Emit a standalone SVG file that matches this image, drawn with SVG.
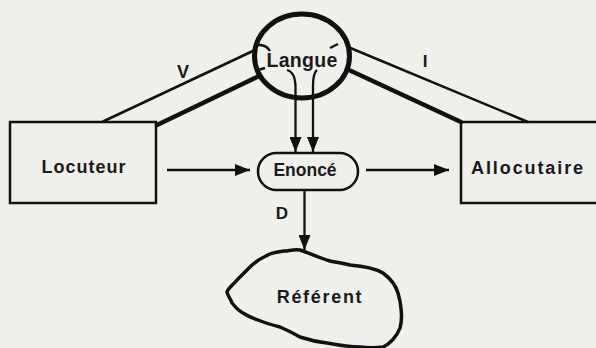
<svg xmlns="http://www.w3.org/2000/svg" width="596" height="348" viewBox="0 0 596 348">
<style>
.bg{fill:#efefec}
.box{fill:none;stroke:#111;stroke-width:2.5}
.ln{fill:none;stroke:#111;stroke-width:2.5}
.thick{fill:none;stroke:#111;stroke-width:4.5;stroke-linecap:round}
.arr{fill:none;stroke:#111;stroke-width:2.3}
.t{font-family:"Liberation Sans",Arial,sans-serif;font-weight:bold;fill:#1a1a1a;text-anchor:middle;dominant-baseline:central}
</style>
<defs>
<marker id="ah" viewBox="0 0 15 12" refX="15" refY="6" markerWidth="15" markerHeight="12" markerUnits="userSpaceOnUse" orient="auto">
<path d="M0,0 L15,6 L0,12 Z" fill="#111"/>
</marker>
</defs>
<rect class="bg" x="0" y="0" width="596" height="348"/>
<g id="langue">
<ellipse cx="302" cy="56" rx="47.5" ry="42" fill="none" stroke="#111" stroke-width="5"/>
<path class="ln" d="M256,45 Q266,44 270,51"/>
<path class="ln" d="M258,70 L265,68"/>
<path class="ln" d="M330,48 L338,44"/>
<text class="t" x="302" y="60" font-size="19.5" letter-spacing="0.3">Langue</text>
</g>
<g id="locuteur">
<rect class="box" x="10" y="122" width="146" height="81"/>
<text class="t" x="84" y="167" font-size="18" letter-spacing="1">Locuteur</text>
</g>
<g id="allocutaire">
<rect class="box" x="461" y="122" width="160" height="81"/>
<text class="t" x="528" y="168" font-size="18" letter-spacing="1.9">Allocutaire</text>
</g>
<g id="enonce">
<rect class="box" x="258" y="153" width="100" height="37" rx="18.5"/>
<text class="t" x="305" y="170" font-size="17.5">Enoncé</text>
</g>
<g id="referent">
<path fill="none" stroke="#111" stroke-width="3.5" stroke-linejoin="round" d="M300,250 C293,249 289,251 284,251 C276,252 270,253 266,256 C259,259 254,263 250,267 C245,272 241,276 237,280 C233,285 228,288 227,292 C228,297 231,299 232,303 C236,308 239,311 243,313 C249,317 253,318 258,320 C265,323 272,325 280,327 C287,330 293,333 300,337 C309,340 318,342 327,343 C338,345 349,347 360,347 C368,348 376,348 383,347 C390,344 397,336 400,328 C403,318 401,303 398,293 C396,286 391,279 383,273 C376,269 362,266 350,265 C342,263 335,262 330,261 C320,258 308,253 300,250 Z"/>
<text class="t" x="320" y="297" font-size="18" letter-spacing="1.7">Référent</text>
</g>
<g id="connectors">
<line class="ln" x1="102" y1="122" x2="255" y2="50"/>
<line class="thick" x1="157" y1="125" x2="259" y2="76"/>
<line class="ln" x1="528" y1="122" x2="348" y2="47"/>
<line class="thick" x1="461" y1="122" x2="349" y2="70"/>
<path class="arr" d="M287,70 Q295,72 295.5,86 L295.5,152" marker-end="url(#ah)"/>
<path class="arr" d="M317,70 Q313,73 313,86 L313,152" marker-end="url(#ah)"/>
<line class="arr" x1="167" y1="170" x2="250" y2="170" marker-end="url(#ah)"/>
<line class="arr" x1="366" y1="170" x2="449" y2="170" marker-end="url(#ah)"/>
<line class="arr" x1="304.5" y1="190" x2="304.5" y2="250" marker-end="url(#ah)"/>
</g>
<g id="labels">
<text class="t" x="183" y="72" font-size="18">V</text>
<text class="t" x="425" y="61" font-size="17">I</text>
<text class="t" x="282" y="213" font-size="17">D</text>
</g>
</svg>
